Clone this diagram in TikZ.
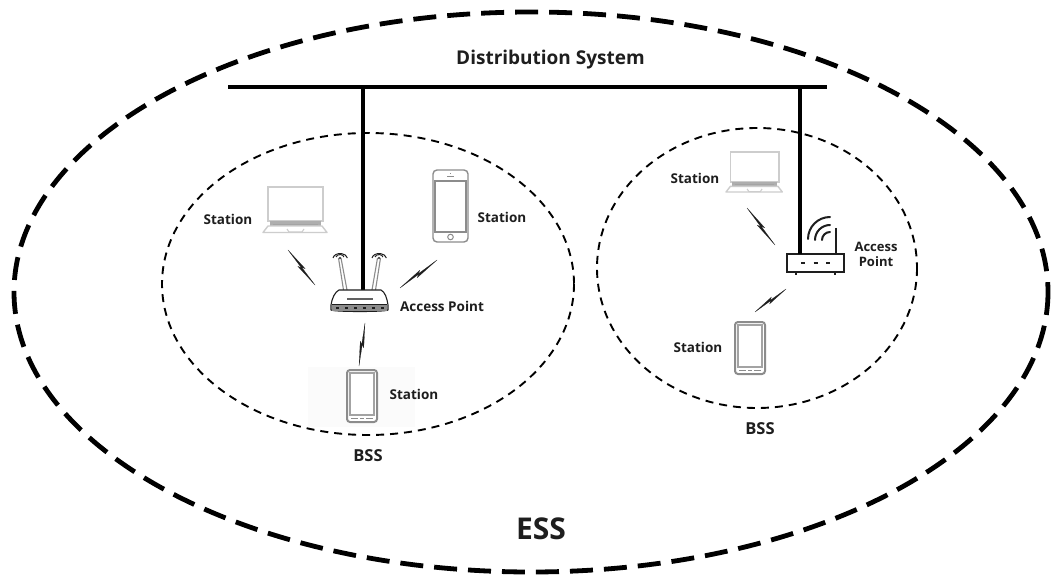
\documentclass[tikz,border=0pt]{standalone}
\usepackage{fontspec}
\setmainfont{Open Sans}
\usetikzlibrary{calc}
\definecolor{ink}{HTML}{1E1E1E}
\definecolor{devgray}{HTML}{8C8C8C}
\definecolor{lapgray}{HTML}{CDCDCD}
\tikzset{
  essline/.style={draw=black,line width=4.8pt,dash pattern=on 23pt off 11pt},
  bssline/.style={draw=black,line width=1.9pt,dash pattern=on 8pt off 6pt},
  wire/.style={draw=black,line width=3.4pt},
  lbl/.style={inner sep=0pt,text=ink,font=\fontsize{13.5}{15}\selectfont\bfseries,align=center},
  boltfill/.style={fill=ink,draw=ink,line width=.15pt},
  laptop/.pic={
    \draw[lapgray,line width=1.6pt,fill=white] (5,0) rectangle (60,34);
    \fill[lapgray!85!black] (7,34) rectangle (58,39);
    \draw[lapgray,line width=1.4pt,fill=white,line join=round] (5,39) -- (0,45.5) -- (64,45.5) -- (59,39) -- cycle;
    \draw[lapgray!80!black,line width=.8pt] (10,37) -- (55,37);
    \draw[lapgray,line width=1pt] (24,42) -- (26,45) -- (39,45) -- (41,42);
  },
  tablet/.pic={
    \draw[devgray,line width=2pt,fill=white,rounded corners=3pt] (0,0) rectangle (30,52);
    \draw[devgray!80,line width=1.2pt] (3,3) rectangle (27,45);
    \draw[devgray,line width=1.1pt] (4,48.5) -- (11,48.5) (13,48.5) -- (17,48.5) (19,48.5) -- (26,48.5);
  },
  iphone/.pic={
    \draw[devgray,line width=1.4pt,fill=white,rounded corners=4pt] (0,0) rectangle (35,72);
    \draw[devgray,line width=1.4pt] (2,11) rectangle (33,62);
    \draw[devgray,line width=.9pt] (14,6) -- (21,6);
    \draw[devgray,line width=.9pt] (17.5,3.5) -- (17.5,4.5);
    \draw[devgray,line width=1pt] (17.5,67) circle (2.8pt);
  },
  wifismall/.pic={
    \draw[ink,line width=1pt] (-7,1) arc[start angle=190,end angle=350,x radius=7.3,y radius=5.5];
    \draw[ink,line width=1pt] (-4,0) arc[start angle=190,end angle=350,x radius=4,y radius=3];
    \fill[ink] (0,1) circle (1.1pt);
  },
}
\newcommand{\bolt}[2]{\fill[boltfill] (#1) -- ($(#1)!.57!(#2)!2.2pt!90:(#2)$) -- ($(#1)!.5!(#2)!.3pt!90:(#2)$) -- (#2) -- ($(#1)!.43!(#2)!-2.2pt!90:(#2)$) -- ($(#1)!.5!(#2)!-.3pt!90:(#2)$) -- cycle;}
\begin{document}
\begin{tikzpicture}[x=1pt,y=-1pt]
\useasboundingbox (0,0) rectangle (1051,577);
\fill[white] (0,0) rectangle (1051,577);
\fill[black!1.5] (308,367) rectangle (415,427);
% ellipses
\draw[essline] (531,292) ellipse [x radius=517,y radius=280];
\draw[bssline] (368,284) ellipse [x radius=206,y radius=151];
\draw[bssline] (757,268) ellipse [x radius=160,y radius=140];
% bus
\coordinate (busL) at (228,87);
\coordinate (busR) at (827,87);
\coordinate (tapA) at (363,87);
\coordinate (tapB) at (800,87);
\draw[wire] (busL) -- (busR);
% devices
\pic at (263,187) {laptop};
\pic[scale=.88] at (726,152) {laptop};
\pic at (433,170) {iphone};
\pic at (347,370) {tablet};
\pic at (735,322) {tablet};
% left router
\coordinate (apA) at (363,290);
\draw[wire] (tapA) -- (apA);
\draw[devgray,line width=1.1pt] (343.5,290) -- (338.5,258) (347,290) -- (341,258) (372,290) -- (377.5,258) (375.5,290) -- (380.5,258);
\draw[ink,line width=1.1pt,fill=white,line join=round] (339,290) -- (381,290) .. controls (385,292) and (387,298) .. (388,305) -- (388,310) .. controls (386,312) and (334,312) .. (331,310) -- (331,305) .. controls (332,298) and (335,292) .. (339,290) -- cycle;
\fill[devgray] (332,305) rectangle (387,310.5);
\draw[ink!70,line width=1.5pt] (347,299) -- (373,299);
\draw[ink,line width=1.2pt] (332,304.5) -- (387,304.5);
\draw[ink,line width=1.6pt,dash pattern=on 3pt off 6pt] (336,308) -- (386,308);
\pic at (340,257) {wifismall};
\pic at (379,257) {wifismall};
% right router
\node[draw=ink,line width=2.2pt,fill=white,minimum width=57pt,minimum height=18pt,inner sep=0pt,outer sep=0pt] (apB) at (815.5,263) {};
\draw[wire] (tapB) -- (apB.north -| tapB);
\draw[ink,line width=2pt] (836,228) -- (836,254);
\draw[ink,line width=1.5pt] (796,272) -- (796,275) (835,272) -- (835,275);
\draw[ink,line width=2.4pt,dash pattern=on 4pt off 8.5pt] (801,263) -- (832,263);
\draw[ink,line width=2pt,line cap=round] (808,239) arc[start angle=180,end angle=270,radius=22];
\draw[ink,line width=2pt,line cap=round] (815,240) arc[start angle=180,end angle=270,radius=15];
\draw[ink,line width=2pt,line cap=round] (822,240) arc[start angle=180,end angle=270,radius=8];
% radio links
\coordinate (b1a) at (288,250); \coordinate (b1b) at (315,285);
\coordinate (b2a) at (437,260); \coordinate (b2b) at (400,288);
\coordinate (b3a) at (365,323); \coordinate (b3b) at (359,366);
\coordinate (b4a) at (747,208); \coordinate (b4b) at (775,245);
\coordinate (b5a) at (786,289); \coordinate (b5b) at (755,312);
\bolt{b1a}{b1b}
\bolt{b2a}{b2b}
\bolt{b3a}{b3b}
\bolt{b4a}{b4b}
\bolt{b5a}{b5b}
% labels
\node[lbl,font=\fontsize{19}{22}\selectfont\bfseries] (ds) at (550.5,60) {Distribution System};
\node[lbl] (s1) at (228,219) {Station};
\node[lbl] (s2) at (502,217) {Station};
\node[lbl] (ap1) at (442,306) {Access Point};
\node[lbl] (s3) at (414,394) {Station};
\node[lbl,font=\fontsize{16.5}{18}\selectfont\bfseries] (bss1) at (368,456) {BSS};
\node[lbl] (s4) at (695,178) {Station};
\node[lbl,font=\fontsize{13}{15}\selectfont\bfseries] (ap2) at (876,254) {Access\\Point};
\node[lbl] (s5) at (698,347) {Station};
\node[lbl,font=\fontsize{16.5}{18}\selectfont\bfseries] (bss2) at (760,429) {BSS};
\node[lbl,font=\fontsize{30}{32}\selectfont\bfseries] (ess) at (541,529) {ESS};
\end{tikzpicture}
\end{document}
